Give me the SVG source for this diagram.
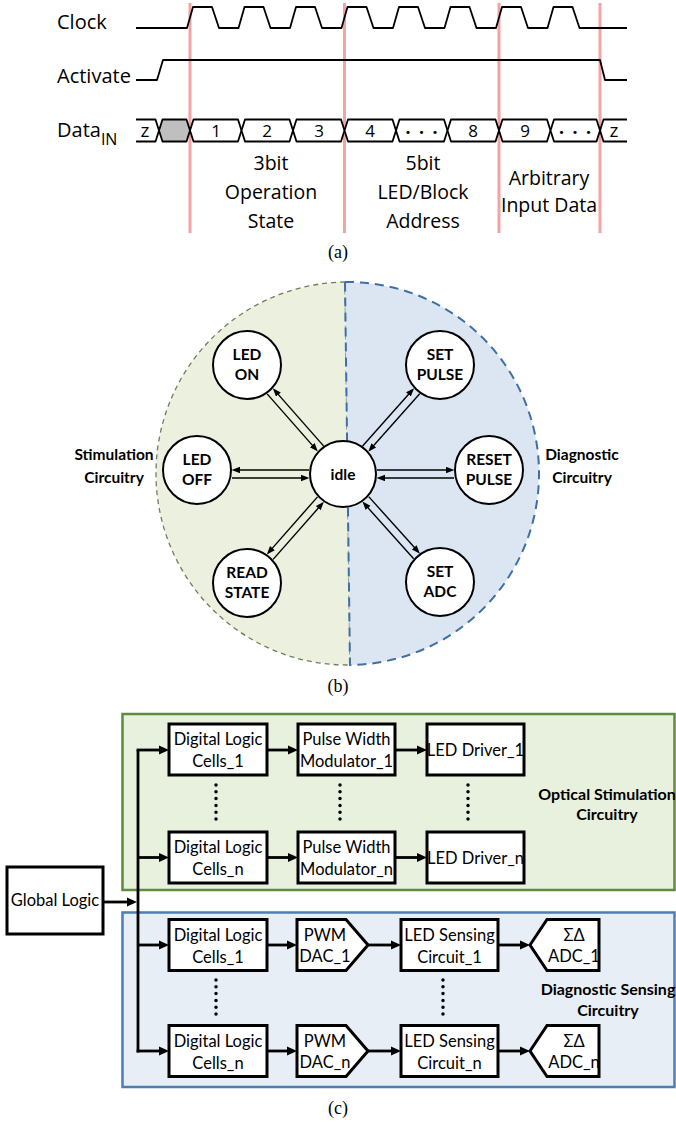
<svg xmlns="http://www.w3.org/2000/svg" width="676" height="1123" viewBox="0 0 676 1123">
<style>
.t{font-family:"Open Sans",sans-serif;font-size:20px;fill:#000}
.ts{font-family:"Open Sans",sans-serif;font-size:19.5px;fill:#000;text-anchor:middle}
.d{font-family:"Open Sans",sans-serif;font-size:17px;fill:#000;text-anchor:middle}
.z{font-family:"Open Sans",sans-serif;font-size:19px;fill:#000;text-anchor:middle}
.dots{font-family:"DejaVu Sans",sans-serif;font-size:11px;letter-spacing:7px;text-anchor:middle}
.wave{fill:none;stroke:#000;stroke-width:1.8;stroke-linejoin:round}
.seg{fill:#fff;stroke:#000;stroke-width:1.8;stroke-linejoin:round}
.red{stroke:#f2a3a3;stroke-width:3}
.cap{font-family:"Liberation Serif",serif;font-size:18px;text-anchor:middle}
.node{fill:#fff;stroke:#000;stroke-width:2}
.nl{font-family:Lato,"Open Sans",sans-serif;font-weight:bold;font-size:15.5px;text-anchor:middle}
.tr{fill:none;stroke:#000;stroke-width:1.4}
.box{fill:#fff;stroke:#000;stroke-width:3}
.bl{font-family:Lato,"Open Sans",sans-serif;font-size:16.5px;text-anchor:middle}
.bb{font-family:Lato,"Open Sans",sans-serif;font-size:16px;font-weight:bold;text-anchor:middle}
.wire{fill:none;stroke:#000;stroke-width:2.8}
.dotv{stroke:#000;stroke-width:3.5;stroke-linecap:round;stroke-dasharray:0 6.8}
</style>
<defs>
<marker id="ah" markerUnits="userSpaceOnUse" markerWidth="12" markerHeight="10" refX="4" refY="5" orient="auto"><path d="M0,0.5 L10,5 L0,9.5 Z" fill="#000"/></marker>
<marker id="sh" markerUnits="userSpaceOnUse" markerWidth="10" markerHeight="8" refX="3" refY="3.2" orient="auto"><path d="M0,0 L8.5,3.2 L0,6.4 Z" fill="#000"/></marker>
</defs>

<!-- (a) timing diagram -->
<g id="timing">
<line class="red" x1="190" y1="3" x2="190" y2="233"/>
<line class="red" x1="344.5" y1="3" x2="344.5" y2="233"/>
<line class="red" x1="499" y1="3" x2="499" y2="233"/>
<line class="red" x1="600" y1="3" x2="600" y2="233"/>
<text class="t" x="57" y="29">Clock</text>
<text class="t" x="57" y="83">Activate</text>
<text class="t" x="57" y="137">Data<tspan font-size="16" dy="8">IN</tspan></text>
<path class="wave" d="M136,28 L187,28 L193,7 L212,7 L219,28 L238.5,28 L244.5,7 L263.5,7 L270.5,28 L290,28 L296,7 L315,7 L322,28 L341.5,28 L347.5,7 L366.5,7 L373.5,28 L393,28 L399,7 L418,7 L425,28 L444.5,28 L450.5,7 L469.5,7 L476.5,28 L496,28 L502,7 L521,7 L528,28 L547.5,28 L553.5,7 L572.5,7 L579.5,28 L627,28"/>
<path class="wave" d="M136,80 L157,80 L163,60 L600,60 L605,80 L627,80"/>
<path class="wave" d="M136,119.5 L155.5,119.5 L159,130.5 L155.5,141.5 L136,141.5"/>
<path class="seg" style="fill:#bfbfbf" d="M159,130.5 L162.5,119.5 L186.5,119.5 L190,130.5 L186.5,141.5 L162.5,141.5 Z"/>
<path class="seg" d="M190,130.5 L193.5,119.5 L238,119.5 L241.5,130.5 L238,141.5 L193.5,141.5 Z"/>
<path class="seg" d="M241.5,130.5 L245,119.5 L289.5,119.5 L293,130.5 L289.5,141.5 L245,141.5 Z"/>
<path class="seg" d="M293,130.5 L296.5,119.5 L341,119.5 L344.5,130.5 L341,141.5 L296.5,141.5 Z"/>
<path class="seg" d="M344.5,130.5 L348,119.5 L392.5,119.5 L396,130.5 L392.5,141.5 L348,141.5 Z"/>
<path class="seg" d="M396,130.5 L399.5,119.5 L444,119.5 L447.5,130.5 L444,141.5 L399.5,141.5 Z"/>
<path class="seg" d="M447.5,130.5 L451,119.5 L495.5,119.5 L499,130.5 L495.5,141.5 L451,141.5 Z"/>
<path class="seg" d="M499,130.5 L502.5,119.5 L547,119.5 L550.5,130.5 L547,141.5 L502.5,141.5 Z"/>
<path class="seg" d="M550.5,130.5 L554,119.5 L596.5,119.5 L600,130.5 L596.5,141.5 L554,141.5 Z"/>
<path class="wave" d="M627,119.5 L603.5,119.5 L600,130.5 L603.5,141.5 L627,141.5"/>
<text class="z" x="145" y="136.5">z</text>
<text class="d" x="216" y="137">1</text>
<text class="d" x="267" y="137">2</text>
<text class="d" x="319" y="137">3</text>
<text class="d" x="370" y="137">4</text>
<text class="dots" x="425" y="135.5">•••</text>
<text class="d" x="473" y="137">8</text>
<text class="d" x="525" y="137">9</text>
<text class="dots" x="578.5" y="135.5">•••</text>
<text class="z" x="614" y="136.5">z</text>
<text class="ts" x="271" y="170">3bit</text>
<text class="ts" x="271" y="199">Operation</text>
<text class="ts" x="271" y="228">State</text>
<text class="ts" x="423" y="170">5bit</text>
<text class="ts" x="423" y="199">LED/Block</text>
<text class="ts" x="423" y="228">Address</text>
<text class="ts" x="549" y="185">Arbitrary</text>
<text class="ts" x="549" y="212">Input Data</text>
</g>
<text class="cap" x="338" y="258">(a)</text>

<!-- (b) state diagram -->
<g id="regions">
<path d="M345,282 A191,191 0 0 0 350,665 Z" fill="#ebf1de" stroke="#6f7f55" stroke-width="1.3" stroke-dasharray="5 4"/>
<path d="M345,282 A191,191 0 0 1 350,665 Z" fill="#dce6f2" stroke="#3e6fa8" stroke-width="2" stroke-dasharray="9 6"/>
<text class="nl" x="114" y="460">Stimulation</text>
<text class="nl" x="114" y="483">Circuitry</text>
<text class="nl" x="582" y="460">Diagnostic</text>
<text class="nl" x="582" y="483">Circuitry</text>
</g>
<g id="transitions">
<g transform="translate(343,474) rotate(-131.37)">
<path class="tr" d="M34,4 L105.25,4" marker-end="url(#sh)"/>
<path class="tr" d="M110.25,-4 L39,-4" marker-end="url(#sh)"/>
</g>
<g transform="translate(343,474) rotate(180)">
<path class="tr" d="M34,4 L106,4" marker-end="url(#sh)"/>
<path class="tr" d="M111,-4 L39,-4" marker-end="url(#sh)"/>
</g>
<g transform="translate(343,474) rotate(131.37)">
<path class="tr" d="M34,4 L105.25,4" marker-end="url(#sh)"/>
<path class="tr" d="M110.25,-4 L39,-4" marker-end="url(#sh)"/>
</g>
<g transform="translate(343,474) rotate(-48.33)">
<path class="tr" d="M34,-4 L105.9,-4" marker-end="url(#sh)"/>
<path class="tr" d="M110.9,4 L39,4" marker-end="url(#sh)"/>
</g>
<g transform="translate(343,474)">
<path class="tr" d="M34,-4 L106,-4" marker-end="url(#sh)"/>
<path class="tr" d="M111,4 L39,4" marker-end="url(#sh)"/>
</g>
<g transform="translate(343,474) rotate(48.07)">
<path class="tr" d="M34,-4 L105.2,-4" marker-end="url(#sh)"/>
<path class="tr" d="M110.2,4 L39,4" marker-end="url(#sh)"/>
</g>
</g>
<g id="s-idle"><circle class="node" cx="343" cy="474" r="33"/><text class="nl" x="343" y="480">idle</text></g>
<g id="s-ledon"><circle class="node" cx="247" cy="365" r="34"/><text class="nl" x="247" y="360">LED</text><text class="nl" x="247" y="380">ON</text></g>
<g id="s-ledoff"><circle class="node" cx="197" cy="470" r="34"/><text class="nl" x="197" y="465">LED</text><text class="nl" x="197" y="485">OFF</text></g>
<g id="s-read"><circle class="node" cx="247" cy="583" r="34"/><text class="nl" x="247" y="578">READ</text><text class="nl" x="247" y="598">STATE</text></g>
<g id="s-setpulse"><circle class="node" cx="440" cy="365" r="34"/><text class="nl" x="440" y="360">SET</text><text class="nl" x="440" y="380">PULSE</text></g>
<g id="s-reset"><circle class="node" cx="489" cy="470" r="34"/><text class="nl" x="489" y="465">RESET</text><text class="nl" x="489" y="485">PULSE</text></g>
<g id="s-setadc"><circle class="node" cx="440" cy="582" r="34"/><text class="nl" x="440" y="577">SET</text><text class="nl" x="440" y="597">ADC</text></g>
<text class="cap" x="338" y="692">(b)</text>

<!-- (c) block diagram -->
<g id="optical-region">
<rect x="122.5" y="714" width="552" height="176" fill="#e8f0de" stroke="#5e8b3e" stroke-width="2.5"/>
<text class="bb" x="607" y="800">Optical Stimulation</text>
<text class="bb" x="607" y="819.5">Circuitry</text>
</g>
<g id="diag-region">
<rect x="122.5" y="912.5" width="552" height="174.5" fill="#e8eef6" stroke="#4d7eb2" stroke-width="2.5"/>
<text class="bb" x="608" y="995">Diagnostic Sensing</text>
<text class="bb" x="608" y="1016">Circuitry</text>
</g>
<g id="connectors">
<path class="wire" d="M103,902 L131,902" marker-end="url(#ah)"/>
<path class="wire" d="M138,750 L138,1052.4"/>
<path class="wire" d="M136.6,750 L163,750" marker-end="url(#ah)"/>
<path class="wire" d="M138,857.5 L163,857.5" marker-end="url(#ah)"/>
<path class="wire" d="M138,945 L163,945" marker-end="url(#ah)"/>
<path class="wire" d="M136.6,1051 L163,1051" marker-end="url(#ah)"/>
<path class="wire" d="M267,750 L292,750" marker-end="url(#ah)"/>
<path class="wire" d="M267,857.5 L292,857.5" marker-end="url(#ah)"/>
<path class="wire" d="M395,750 L421,750" marker-end="url(#ah)"/>
<path class="wire" d="M395,857.5 L421,857.5" marker-end="url(#ah)"/>
<path class="wire" d="M267,945 L291,945" marker-end="url(#ah)"/>
<path class="wire" d="M267,1051 L291,1051" marker-end="url(#ah)"/>
<path class="wire" d="M368,945 L395,945" marker-end="url(#ah)"/>
<path class="wire" d="M368,1051 L395,1051" marker-end="url(#ah)"/>
<path class="wire" d="M498,945 L524,945" marker-end="url(#ah)"/>
<path class="wire" d="M498,1051 L524,1051" marker-end="url(#ah)"/>
<line class="dotv" x1="216" y1="785" x2="216" y2="820"/>
<line class="dotv" x1="340" y1="785" x2="340" y2="820"/>
<line class="dotv" x1="468" y1="785" x2="468" y2="820"/>
<line class="dotv" x1="216" y1="980" x2="216" y2="1015"/>
<line class="dotv" x1="443" y1="980" x2="443" y2="1015"/>
</g>
<g id="global-logic"><rect class="box" x="7" y="867" width="96" height="67"/><text class="bl" x="55" y="906">Global Logic</text></g>
<g id="g-cells1"><rect class="box" x="169" y="724" width="98" height="51"/><text class="bl" x="218" y="745">Digital Logic</text><text class="bl" x="218" y="767">Cells_1</text></g>
<g id="g-cellsn"><rect class="box" x="169" y="832" width="98" height="51"/><text class="bl" x="218" y="853">Digital Logic</text><text class="bl" x="218" y="875">Cells_n</text></g>
<g id="g-pwm1"><rect class="box" x="298" y="724" width="97" height="51"/><text class="bl" x="346.5" y="745">Pulse Width</text><text class="bl" x="346.5" y="767">Modulator_1</text></g>
<g id="g-pwmn"><rect class="box" x="298" y="832" width="97" height="51"/><text class="bl" x="346.5" y="853">Pulse Width</text><text class="bl" x="346.5" y="875">Modulator_n</text></g>
<g id="g-drv1"><rect class="box" x="427" y="724" width="97" height="51"/><text class="bl" x="475.5" y="756">LED Driver_1</text></g>
<g id="g-drvn"><rect class="box" x="427" y="832" width="97" height="51"/><text class="bl" x="475.5" y="864">LED Driver_n</text></g>
<g id="b-cells1"><rect class="box" x="169" y="919.5" width="98" height="51"/><text class="bl" x="218" y="940.5">Digital Logic</text><text class="bl" x="218" y="962.5">Cells_1</text></g>
<g id="b-cellsn"><rect class="box" x="169" y="1025.5" width="98" height="51"/><text class="bl" x="218" y="1046.5">Digital Logic</text><text class="bl" x="218" y="1068.5">Cells_n</text></g>
<g id="b-dac1"><path class="box" d="M297,919.5 L346,919.5 L368,945 L346,970.5 L297,970.5 Z"/><text class="bl" x="325" y="940.5">PWM</text><text class="bl" x="325" y="962">DAC_1</text></g>
<g id="b-dacn"><path class="box" d="M297,1025.5 L346,1025.5 L368,1051 L346,1076.5 L297,1076.5 Z"/><text class="bl" x="325" y="1046.5">PWM</text><text class="bl" x="325" y="1068">DAC_n</text></g>
<g id="b-sense1"><rect class="box" x="401" y="919.5" width="97" height="51"/><text class="bl" x="449.5" y="940.5">LED Sensing</text><text class="bl" x="449.5" y="962.5">Circuit_1</text></g>
<g id="b-sensen"><rect class="box" x="401" y="1025.5" width="97" height="51"/><text class="bl" x="449.5" y="1046.5">LED Sensing</text><text class="bl" x="449.5" y="1068.5">Circuit_n</text></g>
<g id="b-adc1"><path class="box" d="M530,945 L547,919.5 L599,919.5 L599,970.5 L547,970.5 Z"/><text class="bl" x="574" y="940.5">ΣΔ</text><text class="bl" x="574" y="962">ADC_1</text></g>
<g id="b-adcn"><path class="box" d="M530,1051 L547,1025.5 L599,1025.5 L599,1076.5 L547,1076.5 Z"/><text class="bl" x="574" y="1046.5">ΣΔ</text><text class="bl" x="574" y="1068">ADC_n</text></g>
<text class="cap" x="338" y="1114">(c)</text>
</svg>
